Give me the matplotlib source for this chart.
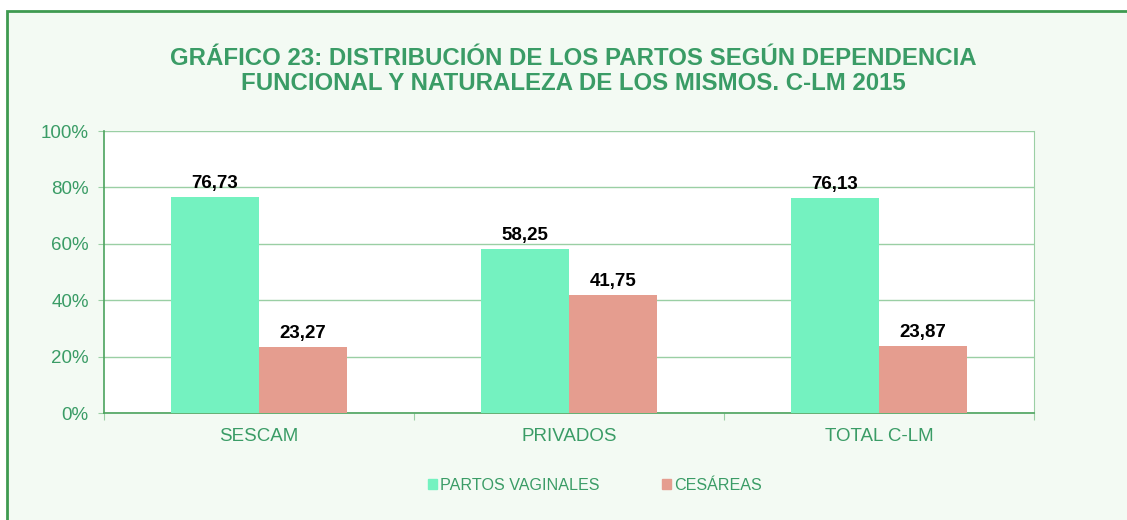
import matplotlib
matplotlib.use('Agg')
import matplotlib.pyplot as plt
import numpy as np
from matplotlib.patches import Rectangle, Patch

plt.rcParams['font.family'] = ['Liberation Sans', 'DejaVu Sans']

categories = ['SESCAM', 'PRIVADOS', 'TOTAL C-LM']
vaginales = [76.73, 58.25, 76.13]
cesareas = [23.27, 41.75, 23.87]
series_names = ['PARTOS VAGINALES', 'CESÁREAS']
title = 'GRÁFICO 23: DISTRIBUCIÓN DE LOS PARTOS SEGÚN DEPENDENCIA\nFUNCIONAL Y NATURALEZA DE LOS MISMOS. C-LM 2015'

green_txt = '#3A9C66'
c_vag = '#74F2C0'
c_ces = '#E59D8F'
grid_c = '#9ACFA4'
axis_c = '#4CA35E'

fig = plt.figure(figsize=(11.27, 5.2), dpi=100)
fig.patch.set_facecolor('white')
# fondo y borde del gráfico
fig.patches.append(Rectangle((7 / 1127, -0.1), 1.2, 1 - 11 / 520 + 0.1,
                             transform=fig.transFigure, facecolor='#F3FAF3',
                             edgecolor='#3E9A50', linewidth=2, zorder=-10))

ax = fig.add_axes([104 / 1127, 1 - 413 / 520, 930 / 1127, 282 / 520])
ax.set_facecolor('white')

x = np.arange(len(categories))
w = 0.284
b1 = ax.bar(x - w / 2, vaginales, w, color=c_vag, zorder=3)
b2 = ax.bar(x + w / 2, cesareas, w, color=c_ces, zorder=3)

for bars, vals in ((b1, vaginales), (b2, cesareas)):
    for r, v in zip(bars, vals):
        ax.annotate(('%.2f' % v).replace('.', ','),
                    (r.get_x() + r.get_width() / 2, v),
                    xytext=(0, 6.5), textcoords='offset points',
                    ha='center', va='baseline', fontsize=13.5,
                    fontweight='bold', color='black')

ax.set_xlim(-0.5, 2.5)
ax.set_ylim(0, 100)
ax.set_yticks(np.arange(0, 101, 20))
ax.set_yticklabels(['%d%%' % t for t in range(0, 101, 20)])
ax.yaxis.grid(True, color=grid_c, linewidth=1, zorder=0)

ax.set_xticks([-0.5, 0.5, 1.5, 2.5])
ax.set_xticklabels([])
ax.set_xticks(x, minor=True)
ax.set_xticklabels(categories, minor=True)
ax.tick_params(axis='x', which='major', length=5, color=grid_c, direction='out')
ax.tick_params(axis='x', which='minor', length=0, pad=11, labelsize=13.5,
               labelcolor=green_txt)
ax.tick_params(axis='y', length=4, color=grid_c, pad=7, labelsize=13.5,
               labelcolor=green_txt)

for s in ['left', 'bottom']:
    ax.spines[s].set_color(axis_c)
    ax.spines[s].set_linewidth(1.2)
ax.spines['right'].set_color(grid_c)
ax.spines['top'].set_visible(False)

fig.text(573 / 1127, 1 - 71 / 520, title, ha='center', va='center',
         fontsize=17.3, fontweight='bold', color=green_txt, linespacing=1.15)

handles = [Patch(color=c_vag), Patch(color=c_ces)]
leg = fig.legend(handles, series_names, loc='center', ncol=2,
                 bbox_to_anchor=(595 / 1127, 1 - 485 / 520), frameon=False,
                 fontsize=11.6, handlelength=0.56, handleheight=0.56,
                 handletextpad=0.2, columnspacing=3.9, borderpad=0)
for t in leg.get_texts():
    t.set_color(green_txt)

fig.savefig('out.png', dpi=100)
